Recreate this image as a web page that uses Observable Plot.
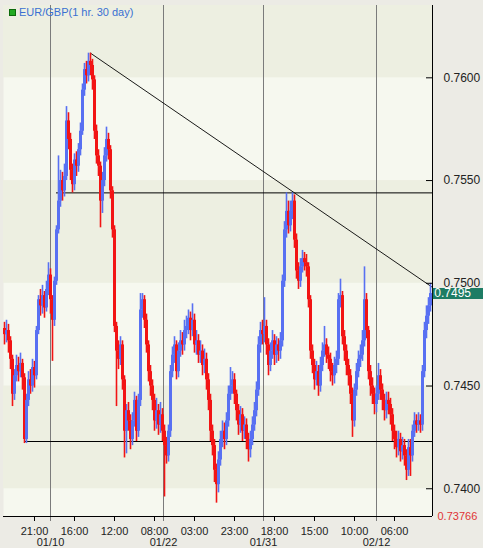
<!DOCTYPE html>
<html><head><meta charset="utf-8">
<script src="https://cdn.jsdelivr.net/npm/d3@7"></script>
<script src="https://cdn.jsdelivr.net/npm/@observablehq/plot@0.6"></script>
<style>
html,body{margin:0;padding:0;background:#ecebe5;}
#chart{position:relative;width:483px;height:548px;overflow:hidden;}
#legend{position:absolute;left:9px;top:7px;height:11px;font:11px/11px "Liberation Sans",Arial,sans-serif;color:#3a6fd2;white-space:nowrap;}
#legend .sw{position:absolute;left:0;top:2px;width:5px;height:5px;background:#22aa22;border:1px solid #0c6a0c;}
#legend .tx{position:absolute;left:10px;top:0;}
</style></head><body>
<div id="chart"><div id="legend"><span class="sw"></span><span class="tx">EUR/GBP(1 hr. 30 day)</span></div></div>
<script>
// ---- data (hourly EUR/GBP bars) ----
const firstOpen = 0.7478;
const close = [
0.7475,0.7477,0.7472,0.7463,0.7446,0.7455,0.7460,0.7457,0.7461,0.7454,
0.7424,0.7443,0.7453,0.7450,0.7459,0.7455,0.7477,0.7492,0.7489,0.7494,
0.7488,0.7497,0.7504,0.7492,0.7482,0.7501,0.7526,0.7540,0.7550,0.7545,
0.7552,0.7579,0.7570,0.7555,0.7548,0.7560,0.7557,0.7565,0.7574,0.7594,
0.7604,0.7601,0.7608,0.7606,0.7599,0.7574,0.7562,0.7557,0.7540,0.7550,
0.7562,0.7570,0.7565,0.7545,0.7526,0.7479,0.7467,0.7463,0.7470,0.7453,
0.7428,0.7438,0.7433,0.7424,0.7433,0.7443,0.7428,0.7443,0.7487,0.7492,
0.7482,0.7470,0.7457,0.7450,0.7443,0.7433,0.7438,0.7431,0.7436,0.7428,
0.7421,0.7416,0.7428,0.7457,0.7465,0.7470,0.7457,0.7467,0.7472,0.7470,
0.7477,0.7479,0.7483,0.7477,0.7482,0.7470,0.7472,0.7465,0.7467,0.7460,
0.7463,0.7453,0.7443,0.7428,0.7421,0.7409,0.7402,0.7414,0.7424,0.7428,
0.7424,0.7433,0.7446,0.7450,0.7453,0.7446,0.7438,0.7431,0.7436,0.7428,
0.7431,0.7424,0.7419,0.7424,0.7431,0.7438,0.7448,0.7470,0.7477,0.7475,
0.7479,0.7470,0.7460,0.7467,0.7472,0.7465,0.7470,0.7467,0.7472,0.7501,
0.7526,0.7535,0.7528,0.7535,0.7540,0.7521,0.7506,0.7501,0.7508,0.7512,
0.7510,0.7508,0.7492,0.7467,0.7460,0.7453,0.7457,0.7450,0.7460,0.7467,
0.7470,0.7465,0.7463,0.7457,0.7455,0.7460,0.7463,0.7492,0.7494,0.7474,
0.7467,0.7460,0.7455,0.7446,0.7433,0.7448,0.7457,0.7463,0.7465,0.7472,
0.7492,0.7477,0.7457,0.7450,0.7446,0.7441,0.7446,0.7455,0.7448,0.7443,
0.7438,0.7443,0.7441,0.7436,0.7428,0.7424,0.7420,0.7424,0.7418,0.7421,
0.7416,0.7409,0.7420,0.7416,0.7428,0.7433,0.7431,0.7433,0.7431,0.7457,
0.7477,0.7484,0.7489,0.7495];
const high = [
0.7481,0.7482,0.7480,0.7474,0.7465,0.7458,0.7465,0.7464,0.7466,0.7463,
0.7456,0.7446,0.7457,0.7458,0.7463,0.7462,0.7479,0.7494,0.7497,0.7499,
0.7496,0.7501,0.7510,0.7507,0.7494,0.7503,0.7528,0.7562,0.7555,0.7554,
0.7558,0.7586,0.7583,0.7573,0.7558,0.7563,0.7564,0.7568,0.7578,0.7597,
0.7607,0.7608,0.7612,0.7612,0.7609,0.7601,0.7577,0.7565,0.7559,0.7554,
0.7566,0.7576,0.7573,0.7567,0.7547,0.7528,0.7481,0.7472,0.7474,0.7472,
0.7455,0.7441,0.7442,0.7436,0.7437,0.7447,0.7445,0.7446,0.7495,0.7495,
0.7494,0.7485,0.7472,0.7460,0.7453,0.7446,0.7444,0.7441,0.7442,0.7439,
0.7431,0.7425,0.7431,0.7460,0.7469,0.7474,0.7472,0.7471,0.7477,0.7476,
0.7482,0.7484,0.7487,0.7486,0.7490,0.7485,0.7477,0.7475,0.7472,0.7470,
0.7468,0.7466,0.7456,0.7446,0.7431,0.7424,0.7412,0.7418,0.7428,0.7433,
0.7432,0.7437,0.7450,0.7459,0.7457,0.7456,0.7448,0.7441,0.7440,0.7439,
0.7435,0.7434,0.7427,0.7428,0.7435,0.7442,0.7452,0.7474,0.7481,0.7482,
0.7493,0.7482,0.7473,0.7471,0.7477,0.7475,0.7474,0.7473,0.7476,0.7504,
0.7530,0.7544,0.7540,0.7540,0.7544,0.7543,0.7524,0.7510,0.7512,0.7516,
0.7515,0.7514,0.7510,0.7494,0.7470,0.7463,0.7462,0.7460,0.7464,0.7471,
0.7479,0.7473,0.7469,0.7466,0.7461,0.7464,0.7467,0.7495,0.7502,0.7496,
0.7477,0.7470,0.7463,0.7458,0.7449,0.7451,0.7461,0.7467,0.7470,0.7477,
0.7508,0.7495,0.7479,0.7460,0.7454,0.7449,0.7450,0.7461,0.7458,0.7451,
0.7446,0.7447,0.7447,0.7444,0.7439,0.7431,0.7428,0.7428,0.7427,0.7425,
0.7424,0.7419,0.7424,0.7424,0.7431,0.7437,0.7436,0.7437,0.7436,0.7460,
0.7481,0.7489,0.7493,0.7500];
const low = [
0.7470,0.7471,0.7466,0.7458,0.7440,0.7443,0.7452,0.7452,0.7454,0.7448,
0.7422,0.7422,0.7440,0.7446,0.7447,0.7449,0.7453,0.7475,0.7484,0.7485,
0.7483,0.7486,0.7494,0.7485,0.7462,0.7479,0.7499,0.7524,0.7537,0.7540,
0.7542,0.7550,0.7565,0.7550,0.7544,0.7545,0.7552,0.7554,0.7562,0.7572,
0.7591,0.7597,0.7598,0.7601,0.7594,0.7570,0.7558,0.7552,0.7527,0.7534,
0.7547,0.7559,0.7560,0.7541,0.7522,0.7476,0.7440,0.7458,0.7460,0.7448,
0.7415,0.7417,0.7428,0.7419,0.7421,0.7430,0.7423,0.7425,0.7440,0.7483,
0.7478,0.7466,0.7452,0.7445,0.7438,0.7428,0.7429,0.7426,0.7427,0.7423,
0.7396,0.7412,0.7413,0.7425,0.7454,0.7461,0.7453,0.7454,0.7464,0.7465,
0.7467,0.7473,0.7475,0.7472,0.7474,0.7466,0.7465,0.7461,0.7461,0.7455,
0.7456,0.7448,0.7438,0.7423,0.7416,0.7403,0.7393,0.7398,0.7411,0.7420,
0.7419,0.7421,0.7430,0.7443,0.7446,0.7441,0.7433,0.7426,0.7427,0.7423,
0.7424,0.7419,0.7413,0.7415,0.7421,0.7428,0.7435,0.7445,0.7466,0.7470,
0.7471,0.7465,0.7455,0.7457,0.7463,0.7460,0.7461,0.7462,0.7463,0.7469,
0.7498,0.7522,0.7524,0.7525,0.7531,0.7517,0.7502,0.7497,0.7498,0.7505,
0.7506,0.7503,0.7488,0.7463,0.7456,0.7448,0.7450,0.7445,0.7447,0.7457,
0.7464,0.7461,0.7458,0.7452,0.7450,0.7451,0.7456,0.7460,0.7488,0.7470,
0.7462,0.7455,0.7450,0.7441,0.7425,0.7430,0.7445,0.7454,0.7459,0.7462,
0.7469,0.7473,0.7453,0.7445,0.7441,0.7436,0.7437,0.7443,0.7443,0.7438,
0.7433,0.7434,0.7436,0.7431,0.7423,0.7419,0.7415,0.7416,0.7413,0.7414,
0.7411,0.7404,0.7406,0.7406,0.7413,0.7425,0.7427,0.7428,0.7427,0.7428,
0.7454,0.7473,0.7480,0.7486];

const timeTickIdx = [15,35,55,75,95,115,135,155,175,195];
const timeTickLabels = ["21:00","16:00","12:00","08:00","03:00","23:00","18:00","15:00","10:00","06:00"];
const dateIdx = [23,79.5,129.5,186];
const dateLabels = ["01/10","01/22","01/31","02/12"];
const yTicks = [0.7400,0.7450,0.7500,0.7550,0.7600];
const bandLo = [0.7400,0.7500,0.7600];
const bandHi = [0.7450,0.7550,0.7650];
const levels = [0.7544,0.7423];
const levelStart = [26,10];
const trendIdx = [43,214];
const trendPrice = [0.7612,0.7498];
const yDomain = [0.73865,0.76352];
const xDomain = [-0.5,214];
const bottomLabel = "0.73766";

// ---- build tables ----
const bars = close.map((c,i)=>({i, open: i ? close[i-1] : firstOpen, close: c, high: high[i], low: low[i]}));
const bands = bandLo.map((lo,k)=>({lo, hi: bandHi[k]}));
const trend = trendIdx.map((x,k)=>({x, y: trendPrice[k]}));
const timeMap = new Map(timeTickIdx.map((d,k)=>[d,timeTickLabels[k]]));
const dateMap = new Map(dateIdx.map((d,k)=>[d,dateLabels[k]]));
const last = bars[bars.length-1];
const UP = "#5870f2", DOWN = "#f21414";
const col = d => d.close >= d.open ? UP : DOWN;

const plot = Plot.plot({
  width: 483, height: 548,
  marginTop: 5, marginBottom: 32, marginLeft: 3, marginRight: 51,
  style: {background: "#ecebe5", fontFamily: "'Liberation Sans', Arial, sans-serif", fontSize: "11px", color: "#222", overflow: "visible"},
  x: {domain: xDomain, axis: null},
  y: {domain: yDomain, axis: null},
  marks: [
    Plot.frame({fill: "#f6f8ef", stroke: null}),
    Plot.rect(bands, {y1: "lo", y2: "hi", fill: "#edefe1", clip: true}),
    Plot.ruleX(dateIdx, {x: d=>d, stroke: "#7b7b7b", strokeWidth: 1}),
    Plot.axisX(dateIdx, {tickSize: 5, tickPadding: 17, color: "#7b7b7b", fill: "#222", fontSize: 11, tickFormat: d=>dateMap.get(d)}),
    Plot.axisX(timeTickIdx, {tickSize: 5, tickPadding: 6, stroke: "#000", fill: "#222", fontSize: 11, tickFormat: d=>timeMap.get(d)}),
    Plot.ruleY(levels, {y: d=>d, x1: (d,k)=>levelStart[k], x2: xDomain[1], stroke: "#000", strokeWidth: 1}),
    Plot.line(trend, {x: "x", y: "y", stroke: "#000", strokeWidth: 0.9}),
    Plot.ruleX(bars, {x: "i", y1: "low", y2: "high", stroke: col, strokeWidth: 1.6}),
    Plot.ruleX(bars, {x: "i", y1: "open", y2: "close", stroke: col, strokeWidth: 3}),
    Plot.ruleY([yDomain[0]], {stroke: "#000"}),
    Plot.ruleX([xDomain[1]], {stroke: "#000"}),
    Plot.ruleY(yTicks, {y: d=>d, x1: 211, x2: xDomain[1], stroke: "#000"}),
    Plot.axisY(yTicks, {anchor: "right", tickSize: 0, tickPadding: 11, fontSize: 12, fill: "#222", tickFormat: d3.format(".4f")}),
    Plot.ruleY([last.close], {y: d=>d, x1: 214.4, x2: 241, stroke: "#1d7c64", strokeWidth: 11}),
    Plot.text([last.close], {x: 214.4, y: d=>d, text: d=>d.toFixed(4), textAnchor: "start", dx: 1, fill: "#fff", fontSize: 12}),
    Plot.text([bottomLabel], {x: xDomain[1], y: yDomain[0], text: d=>d, textAnchor: "start", dx: 5, fill: "#e03434", fontSize: 11})
  ]
});
document.getElementById("chart").prepend(plot);
</script>
</body></html>
